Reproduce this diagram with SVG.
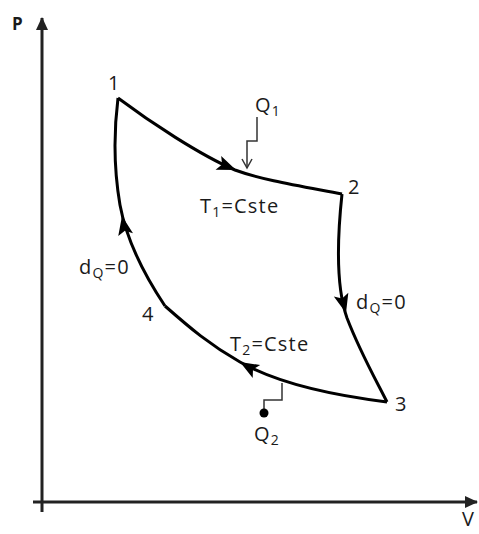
<svg xmlns="http://www.w3.org/2000/svg" width="479" height="534" viewBox="0 0 479 534">
<style>
.t{font-family:"Open Sans","Liberation Sans",sans-serif;font-size:20px;fill:#1a1a1a;letter-spacing:1.2px}
.s{font-size:14px}
.curve{fill:none;stroke:#000;stroke-width:3;stroke-linejoin:round}
.axis{fill:none;stroke:#222;stroke-width:3}
.q{fill:none;stroke:#333;stroke-width:1.5}
</style>
<defs>
<path id="ah" d="M0,0 L-19,-7.5 L-15,0 L-19,7.5 Z" fill="#000"/>
<marker id="qa" markerWidth="12" markerHeight="12" refX="10" refY="6" orient="auto" markerUnits="userSpaceOnUse">
<path d="M1,1 L10,6 L1,11" fill="none" stroke="#333" stroke-width="1.5"/>
</marker>
<marker id="ax" markerWidth="14" markerHeight="14" refX="12" refY="7" orient="auto" markerUnits="userSpaceOnUse">
<path d="M0,1 L13,7 L0,13 Z" fill="#222"/>
</marker>
</defs>
<g id="axes">
<line class="axis" x1="42" y1="512" x2="42" y2="18" marker-end="url(#ax)"/>
<line class="axis" x1="33" y1="502" x2="477" y2="502" marker-end="url(#ax)"/>
<text class="t" x="12" y="30" style="font-weight:bold;font-size:17px">P</text>
<text class="t" x="462" y="526" style="letter-spacing:0">V</text>
</g>
<g id="connectors">
<path id="e12" class="curve" d="M118,98 C150,122 200,155 235,170 C262,180 300,186 342,194"/>
<path id="e23" class="curve" d="M342,194 C336,250 337,290 347,318 C360,352 376,380 387,402"/>
<path id="e34" class="curve" d="M387,402 C330,395 275,382 240,362 C210,345 190,328 165,306"/>
<path id="e41" class="curve" d="M165,306 C145,276 127,243 120,205 C114,170 114,130 118,98"/>
<use href="#ah" transform="translate(236,170) rotate(22)"/>
<use href="#ah" transform="translate(346,313) rotate(75)"/>
<use href="#ah" transform="translate(240,362) rotate(-150)"/>
<use href="#ah" transform="translate(122,216) rotate(-101)"/>
<polyline class="q" points="257,117 257,141 247,141 247,168" marker-end="url(#qa)"/>
<polyline class="q" points="282,383 282,400 264,400 264,412"/>
<circle cx="264" cy="413" r="4.5" fill="#000"/>
</g>
<g id="node1"><text class="t" x="108" y="90">1</text></g>
<g id="node2"><text class="t" x="348" y="194">2</text></g>
<g id="node3"><text class="t" x="395" y="411">3</text></g>
<g id="node4"><text class="t" x="142" y="321">4</text></g>
<g id="labels">
<text class="t" x="255" y="112">Q<tspan class="s" dy="4">1</tspan></text>
<text class="t" x="200" y="213">T<tspan class="s" dy="4">1</tspan><tspan dy="-4">=Cste</tspan></text>
<text class="t" x="230" y="351">T<tspan class="s" dy="4">2</tspan><tspan dy="-4">=Cste</tspan></text>
<text class="t" x="79" y="274">d<tspan class="s" dy="4">Q</tspan><tspan dy="-4">=0</tspan></text>
<text class="t" x="356" y="309">d<tspan class="s" dy="4">Q</tspan><tspan dy="-4">=0</tspan></text>
<text class="t" x="254" y="441">Q<tspan class="s" dy="4">2</tspan></text>
</g>
</svg>
